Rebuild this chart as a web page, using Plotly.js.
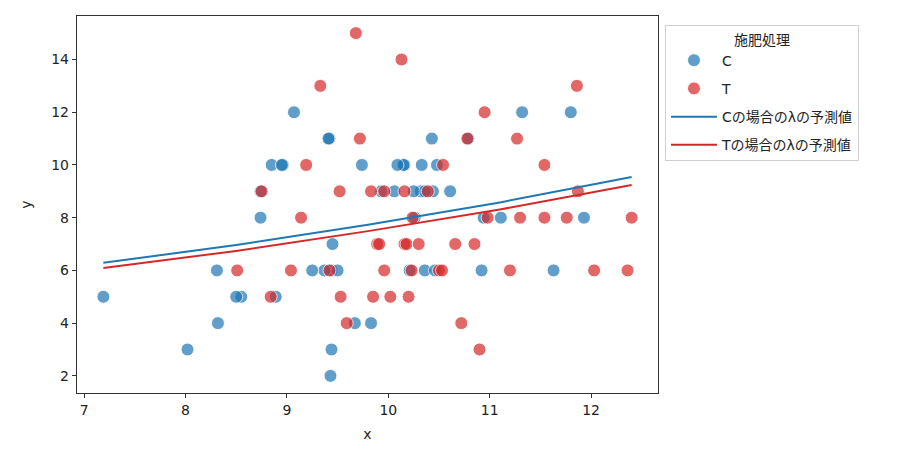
<!DOCTYPE html>
<html>
<head>
<meta charset="utf-8">
<script src="https://cdn.plot.ly/plotly-3.0.1.min.js"></script>
<style>
  body { margin: 0; background: #fff; }
  #chart { width: 903px; height: 458px; }
</style>
</head>
<body>
<div id="chart"></div>
<script>
// Group C: body size x, seed count y
var cX = [8.31, 9.44, 9.50, 9.07, 10.16, 8.32, 10.61, 10.06, 9.93, 10.43,
          10.36, 10.15, 10.92, 8.85, 9.42, 11.11, 8.02, 11.93, 8.55, 7.19,
          9.83, 10.79, 8.89, 10.09, 11.63, 10.21, 9.45, 10.44, 9.44, 10.48,
          9.43, 10.32, 10.33, 8.50, 9.41, 8.96, 9.67, 10.26, 10.36, 11.80,
          10.94, 10.25, 8.74, 10.46, 9.37, 9.74, 8.95, 8.74, 11.32, 9.25];
var cY = [6, 6, 6, 12, 10, 4, 9, 9, 9, 11,
          6, 10, 6, 10, 11, 8, 3, 8, 5, 5,
          4, 11, 5, 10, 6, 6, 7, 9, 3, 10,
          2, 9, 10, 5, 11, 10, 4, 8, 9, 12,
          8, 9, 8, 6, 6, 10, 10, 9, 12, 6];

// Group T
var tX = [9.68, 10.13, 9.33, 11.86, 10.95, 9.72, 10.78, 11.27, 9.19, 10.54,
          11.54, 8.75, 9.52, 9.83, 9.96, 10.16, 10.39, 11.87, 9.14, 10.24,
          10.98, 11.30, 11.54, 11.76, 12.40, 9.89, 9.91, 10.16, 10.18, 10.30,
          10.66, 10.85, 8.51, 9.04, 9.42, 9.96, 10.23, 10.50, 10.53, 11.20,
          12.03, 12.36, 8.84, 9.53, 9.85, 10.02, 10.20, 9.59, 10.72, 10.90];
var tY = [15, 14, 13, 13, 12, 11, 11, 11, 10, 10,
          10, 9, 9, 9, 9, 9, 9, 9, 8, 8,
          8, 8, 8, 8, 8, 7, 7, 7, 7, 7,
          7, 7, 6, 6, 6, 6, 6, 6, 6, 6,
          6, 6, 5, 5, 5, 5, 5, 4, 4, 3];

// Predicted lambda lines
var lineX = [7.19, 8.50, 9.80, 11.10, 12.40];
var lineC = [6.29, 6.96, 7.73, 8.58, 9.54];
var lineT = [6.09, 6.74, 7.49, 8.31, 9.24];

var BLUE = '#1f77b4';
var RED = '#d62728';

var dotStyle = function(color) {
    return {size: 13, color: color, opacity: 0.7, line: {color: '#fff', width: 1}};
};

var data = [
    {x: cX, y: cY, type: 'scatter', mode: 'markers', name: 'C', legendgroup: 'g1',
     marker: dotStyle(BLUE)},
    {x: tX, y: tY, type: 'scatter', mode: 'markers', name: 'T', legendgroup: 'g2',
     marker: dotStyle(RED)},
    {x: lineX, y: lineC, type: 'scatter', mode: 'lines', name: 'Cの場合のλの予測値',
     legendgroup: 'g3', line: {color: BLUE, width: 2}},
    {x: lineX, y: lineT, type: 'scatter', mode: 'lines', name: 'Tの場合のλの予測値',
     legendgroup: 'g4', line: {color: RED, width: 2}}
];

var axisStyle = {
    showgrid: false,
    zeroline: false,
    showline: true,
    mirror: true,
    linecolor: '#333',
    linewidth: 1.2,
    ticks: 'outside',
    ticklen: 4,
    tickcolor: '#333',
    tickfont: {size: 14, color: '#222'}
};

var layout = {
    width: 903,
    height: 458,
    margin: {l: 77, r: 245, t: 16, b: 65},
    paper_bgcolor: '#fff',
    plot_bgcolor: '#fff',
    font: {family: 'DejaVu Sans, "Noto Sans CJK JP", sans-serif', color: '#222'},
    xaxis: Object.assign({}, axisStyle, {
        range: [6.93, 12.66],
        tickvals: [7, 8, 9, 10, 11, 12],
        title: {text: 'x', font: {size: 14}, standoff: 12}
    }),
    yaxis: Object.assign({}, axisStyle, {
        range: [1.35, 15.65],
        tickvals: [2, 4, 6, 8, 10, 12, 14],
        title: {text: 'y', font: {size: 14}, standoff: 16}
    }),
    showlegend: true,
    legend: {
        x: 1.012, xanchor: 'left',
        y: 0.975, yanchor: 'top',
        bordercolor: '#d0d0d0',
        borderwidth: 1,
        font: {size: 14},
        itemwidth: 46,
        entrywidth: 180,
        entrywidthmode: 'pixels',
        tracegroupgap: 7,
        traceorder: 'grouped',
        title: {text: '施肥処理', side: 'top center', font: {size: 14}}
    }
};

Plotly.newPlot('chart', data, layout, {displayModeBar: false, staticPlot: true});
</script>
</body>
</html>
